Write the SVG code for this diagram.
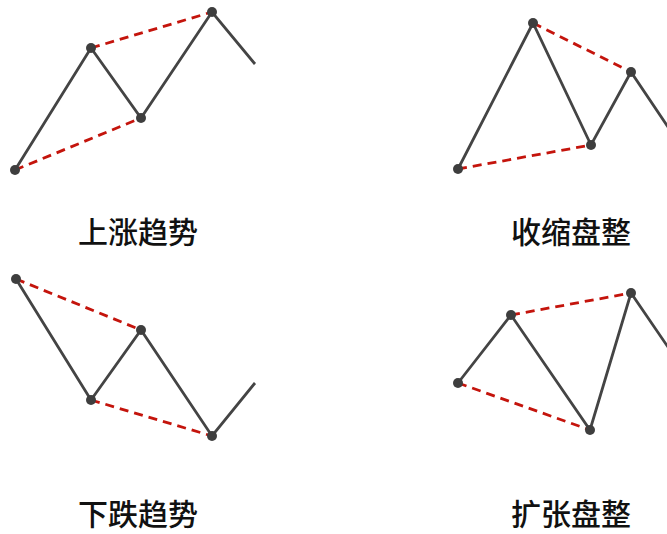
<svg xmlns="http://www.w3.org/2000/svg" width="667" height="534" viewBox="0 0 667 534">
<style>
.z{fill:none;stroke:#444;stroke-width:2.8;stroke-linejoin:miter}
.d{fill:none;stroke:#c4140c;stroke-width:2.8;stroke-dasharray:9 6}
.p{fill:#3e3e3e}
.t{font-family:"Noto Sans CJK SC","Noto Sans",sans-serif;font-size:30px;font-weight:500;fill:#111;text-anchor:middle}
</style>
<rect width="667" height="534" fill="#fff"/>
<g id="uptrend">
<polyline class="z" points="15,170 91,48 141,118 212,12 255,64"/>
<line class="d" x1="15" y1="170" x2="141" y2="118"/>
<line class="d" x1="91" y1="48" x2="212" y2="12"/>
<circle class="p" cx="15" cy="170" r="5"/><circle class="p" cx="91" cy="48" r="5"/><circle class="p" cx="141" cy="118" r="5"/><circle class="p" cx="212" cy="12" r="5"/>
<text class="t" x="138" y="243">上涨趋势</text>
</g>
<g id="contracting">
<polyline class="z" points="458,169 533,23 591,145 631,72 670,130"/>
<line class="d" x1="458" y1="169" x2="591" y2="145"/>
<line class="d" x1="533" y1="23" x2="631" y2="72"/>
<circle class="p" cx="458" cy="169" r="5"/><circle class="p" cx="533" cy="23" r="5"/><circle class="p" cx="591" cy="145" r="5"/><circle class="p" cx="631" cy="72" r="5"/>
<text class="t" x="571" y="243">收缩盘整</text>
</g>
<g id="downtrend">
<polyline class="z" points="16,279 91,400 141,330 212,436 255,383"/>
<line class="d" x1="16" y1="279" x2="141" y2="330"/>
<line class="d" x1="91" y1="400" x2="212" y2="436"/>
<circle class="p" cx="16" cy="279" r="5"/><circle class="p" cx="91" cy="400" r="5"/><circle class="p" cx="141" cy="330" r="5"/><circle class="p" cx="212" cy="436" r="5"/>
<text class="t" x="138" y="525">下跌趋势</text>
</g>
<g id="expanding">
<polyline class="z" points="458,383 511,315 590,430 631,293 670,350"/>
<line class="d" x1="458" y1="383" x2="590" y2="430"/>
<line class="d" x1="511" y1="315" x2="631" y2="293"/>
<circle class="p" cx="458" cy="383" r="5"/><circle class="p" cx="511" cy="315" r="5"/><circle class="p" cx="590" cy="430" r="5"/><circle class="p" cx="631" cy="293" r="5"/>
<text class="t" x="571" y="525">扩张盘整</text>
</g>
</svg>
